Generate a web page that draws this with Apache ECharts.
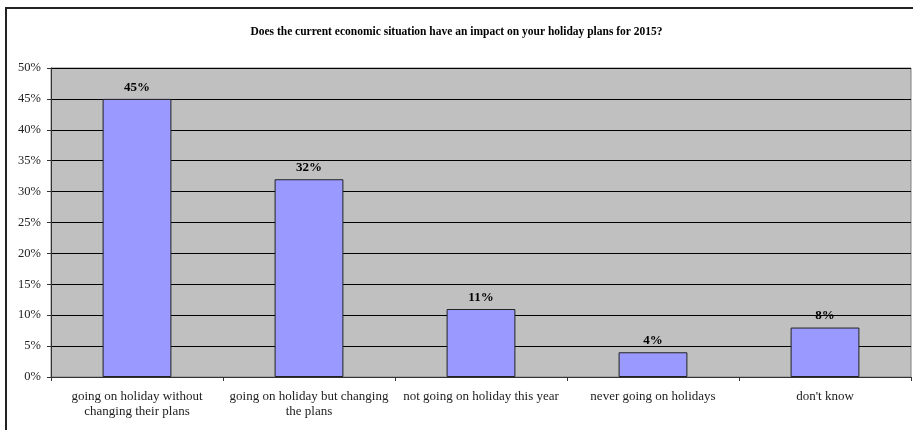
<!DOCTYPE html>
<html>
<head>
<meta charset="utf-8">
<script src="https://cdn.jsdelivr.net/npm/echarts@6/dist/echarts.min.js"></script>
<style>
  html, body { margin: 0; padding: 0; background: #fff; }
  #frame { position: absolute; left: 5px; top: 7px; width: 920px; height: 440px; border-left: 2px solid #222; border-top: 2px solid #222; }
  #chart { position: absolute; left: 0; top: 0; width: 913px; height: 430px; }
</style>
</head>
<body>
<div id="frame"></div>
<div id="chart"></div>
<script>
// data
const categories = [
  'going on holiday without\nchanging their plans',
  'going on holiday but changing\nthe plans',
  'not going on holiday this year',
  'never going on holidays',
  "don't know"
];
const shares = [45, 32, 11, 4, 8];
const yTicks = { min: 0, max: 50, interval: 5 };

const chart = echarts.init(document.getElementById('chart'));
const font = '"Liberation Serif", "Times New Roman", serif';

const option = {
  animation: false,
  title: {
    text: 'Does the current economic situation have an impact on your holiday plans for 2015?',
    left: 'center',
    top: 21,
    textStyle: { fontFamily: font, fontSize: 11.5, fontWeight: 'bold', color: '#000' }
  },
  grid: {
    left: 51,
    right: 2,
    top: 68,
    bottom: 53,
    show: true,
    backgroundColor: '#C0C0C0',
    borderColor: '#808080',
    borderWidth: 1
  },
  xAxis: {
    type: 'category',
    data: categories,
    axisLine: { lineStyle: { color: '#333', width: 1 } },
    axisTick: { show: true, length: 4, lineStyle: { color: '#333' } },
    axisLabel: {
      interval: 0,
      margin: 12,
      fontFamily: font,
      fontSize: 13,
      lineHeight: 15,
      color: '#222'
    }
  },
  yAxis: {
    type: 'value',
    min: yTicks.min,
    max: yTicks.max,
    interval: yTicks.interval,
    axisLine: { show: true, lineStyle: { color: '#333' } },
    axisTick: { show: true, length: 4, lineStyle: { color: '#333' } },
    axisLabel: {
      formatter: '{value}%',
      margin: 10,
      fontFamily: font,
      fontSize: 12.5,
      color: '#222'
    },
    splitLine: { lineStyle: { color: '#000', width: 1 } }
  },
  series: [
    {
      type: 'bar',
      data: shares,
      barWidth: '40%',
      itemStyle: { color: '#9999FF', borderColor: '#222', borderWidth: 1 },
      label: {
        show: true,
        position: 'top',
        distance: 5,
        formatter: '{c}%',
        fontFamily: font,
        fontSize: 13,
        fontWeight: 'bold',
        color: '#000'
      }
    }
  ]
};

chart.setOption(option);
</script>
</body>
</html>
